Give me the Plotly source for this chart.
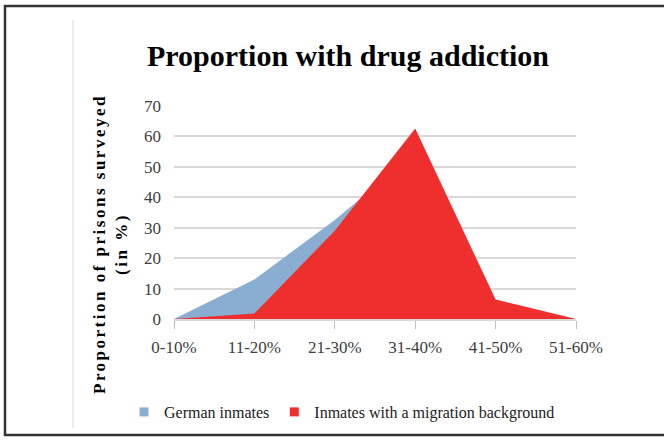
import plotly.graph_objects as go

categories = ["0-10%", "11-20%", "21-30%", "31-40%", "41-50%", "51-60%"]
german_inmates = [0, 13, 32.5, 54.5, 4, 0]
migration_inmates = [0, 1.8, 29, 62.6, 6.4, 0]
y_ticks = [0, 10, 20, 30, 40, 50, 60, 70]

W, H = 664, 441
L, R, T, B = 174, 576, 106, 319  # plot area pixel box


def px(x):
    return (x - L) / (R - L)


def py(y):
    return (B - y) / (B - T)


fig = go.Figure()
fig.add_trace(go.Scatter(
    x=categories, y=german_inmates, mode="lines", fill="tozeroy",
    line=dict(width=0, color="#8AADD2"), fillcolor="#8AADD2",
    showlegend=False, hoverinfo="skip"))
fig.add_trace(go.Scatter(
    x=categories, y=migration_inmates, mode="lines", fill="tozeroy",
    line=dict(width=0, color="#EE2F2D"), fillcolor="#EE2F2D",
    showlegend=False, hoverinfo="skip"))
# legend entries
fig.add_trace(go.Scatter(x=[None], y=[None], mode="markers", name="German inmates",
                         marker=dict(symbol="square", size=9, color="#8AADD2")))
fig.add_trace(go.Scatter(x=[None], y=[None], mode="markers",
                         name="Inmates with a migration background",
                         marker=dict(symbol="square", size=9, color="#EE2F2D")))

fig.update_layout(
    width=W, height=H,
    margin=dict(l=L, r=W - R, t=T, b=H - B),
    paper_bgcolor="white", plot_bgcolor="white",
    title=dict(text="<b>Proportion with drug addiction</b>",
               font=dict(family="Liberation Serif", size=30, color="#000000"),
               x=348 / W, xanchor="center", xref="container",
               y=1 - 55 / H, yanchor="middle", yref="container"),
    xaxis=dict(type="category", categoryorder="array", categoryarray=categories,
               range=[0, len(categories) - 1], showgrid=False, zeroline=False,
               showline=True, linecolor="#D9D9D9", linewidth=1.5,
               ticks="outside", ticklen=8, tickcolor="#BFBFBF", tickwidth=1,
               ticklabelstandoff=4,
               tickfont=dict(family="Liberation Serif", size=17, color="#404040")),
    yaxis=dict(range=[0, 70], tickvals=y_ticks, showgrid=True, gridcolor="#D9D9D9",
               gridwidth=1.5, zeroline=False, showline=False, ticks="",
               ticklabelstandoff=12,
               tickfont=dict(family="Liberation Serif", size=17, color="#404040")),
    legend=dict(orientation="h", x=px(124), xanchor="left", y=py(412), yanchor="middle",
                font=dict(family="Liberation Serif", size=16, color="#222222"),
                itemwidth=30, tracegroupgap=0, bgcolor="rgba(0,0,0,0)"),
    showlegend=True,
)

fig.add_annotation(
    text='<b><span style="letter-spacing:2.5px">Proportion of prisons surveyed</span></b><br>'
         '<b><span style="letter-spacing:2.5px">(in %)</span></b>',
    xref="paper", yref="paper", x=px(110), y=py(244), textangle=-90,
    showarrow=False, xanchor="center", yanchor="middle",
    font=dict(family="Liberation Serif", size=17, color="#000000"))

# outer frame and divider
fig.add_shape(type="rect", xref="paper", yref="paper",
              x0=px(5), x1=px(680), y0=py(435), y1=py(6),
              line=dict(color="#333333", width=2.5), layer="above")
fig.add_shape(type="line", xref="paper", yref="paper",
              x0=px(73), x1=px(73), y0=py(428), y1=py(20),
              line=dict(color="#D9D9D9", width=1), layer="above")

fig.write_html("out.html")
